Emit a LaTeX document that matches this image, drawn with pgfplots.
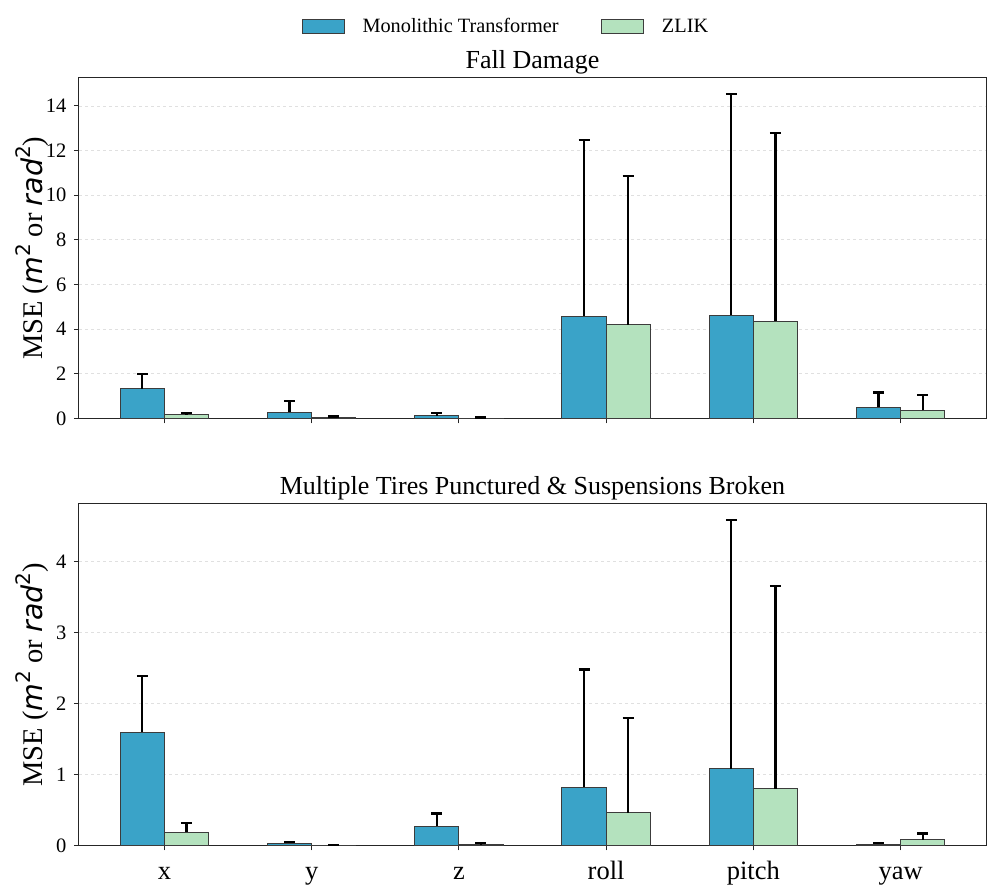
\documentclass[border=0pt]{standalone}
\usepackage{fontspec}
\setmainfont{Liberation Serif}
\newfontfamily\djv{DejaVu Sans}
\usepackage{pgfplots}
\usepackage{pgfplotstable}
\pgfplotsset{compat=1.18}

\definecolor{mtblue}{RGB}{58,163,200}
\definecolor{zlgreen}{RGB}{180,226,190}
\definecolor{edgegray}{RGB}{60,60,60}

% xm / xz: bar centres; Monolithic Transformer mean / error, ZLIK mean / error
\pgfplotstableread{
xm    xz    mt    mterr zl    zlerr
-0.15 0.15  1.34  0.66  0.16  0.07
0.85  1.15  0.27  0.50  0.05  0.04
1.85  2.15  0.13  0.11  0.02  0.02
2.85  3.15  4.58  7.90  4.20  6.67
3.85  4.15  4.62  9.93  4.35  8.42
4.85  5.15  0.51  0.65  0.36  0.71
}\falldamage

\pgfplotstableread{
xm    xz    mt    mterr zl    zlerr
-0.15 0.15  1.596 0.79  0.19  0.13
0.85  1.15  0.035 0.015 0.005 0.005
1.85  2.15  0.27  0.18  0.01  0.02
2.85  3.15  0.82  1.66  0.46  1.34
3.85  4.15  1.08  3.50  0.80  2.86
4.85  5.15  0.02  0.02  0.08  0.09
}\tires

\pgfplotsset{
  mseaxis/.style={
    scale only axis, width=907pt,
    xmin=-0.58, xmax=5.58, ymin=0,
    xtick={0,...,5},
    tick align=outside, tick pos=left,
    major tick length=5pt,
    tick style={black!85, line width=1pt},
    axis line style={black!85, line width=1pt},
    ymajorgrids,
    grid style={dashed, black!12, line width=0.8pt},
    /pgf/number format/assume math mode=true,
    yticklabel style={font=\fontsize{20.5}{20.5}\selectfont, xshift=-4pt},
    xticklabel style={font=\fontsize{26.5}{26.5}\selectfont, anchor=north, inner sep=0pt,
      text height=18pt, text depth=6pt, yshift=-10.5pt},
    every axis title shift=0pt,
    title style={font=\fontsize{26}{26}\selectfont, at={(0.5,1)}, anchor=base, yshift=9pt},
    ylabel style={font=\fontsize{28.5}{28.5}\selectfont, at={(axis description cs:0,0.5)}, anchor=center, yshift=47pt},
    ylabel={MSE ({\djv\itshape m}\raisebox{0.42em}{\fontsize{20}{20}\selectfont\djv 2} or {\djv\itshape rad}\raisebox{0.42em}{\fontsize{20}{20}\selectfont\djv 2})},
    error bars/y dir=plus, error bars/y explicit,
    error bars/error bar style={black, line width=2.2pt},
    error bars/error mark options={black, rotate=90, mark size=5.5pt, line width=2.2pt},
  },
  mtbar/.style={ybar, bar width=0.3, bar shift=0pt, fill=mtblue, draw=edgegray, line width=1pt,
    legend image code/.code={\draw[fill=mtblue, draw=edgegray, line width=1pt] (0pt,-7pt) rectangle (42pt,7pt);}},
  zlbar/.style={ybar, bar width=0.3, bar shift=0pt, fill=zlgreen, draw=edgegray, line width=1pt,
    legend image code/.code={\draw[fill=zlgreen, draw=edgegray, line width=1pt] (0pt,-7pt) rectangle (42pt,7pt);}},
}

\begin{document}
\begin{tikzpicture}
\useasboundingbox (0pt,0pt) rectangle (997pt,891pt);

\begin{axis}[mseaxis,
  at={(79pt,472.5pt)}, anchor=south west, height=340.5pt,
  ymax=15.25, ytick={0,2,...,14},
  xticklabels={,,,,,},
  title={Fall Damage},
  legend columns=2,
  legend cell align=left,
  legend style={draw=none, fill=none,
    at={(axis description cs:0.4697,1)}, anchor=center, yshift=51.5pt,
    font=\fontsize{20.3}{20.3}\selectfont,
    nodes={inner sep=0pt},
    /tikz/every odd column/.append style={column sep=17.7pt},
    /tikz/every even column/.append style={column sep=42.7pt}},
]
\addplot[mtbar] table[x=xm, y=mt, y error=mterr] {\falldamage};
\addlegendentry{Monolithic Transformer}
\addplot[zlbar] table[x=xz, y=zl, y error=zlerr] {\falldamage};
\addlegendentry{ZLIK}
\end{axis}

\begin{axis}[mseaxis,
  at={(79pt,45.5pt)}, anchor=south west, height=341.5pt,
  ymax=4.81, ytick={0,1,...,4},
  xticklabels={x,y,z,roll,pitch,yaw},
  title={Multiple Tires Punctured \& Suspensions Broken},
]
\addplot[mtbar] table[x=xm, y=mt, y error=mterr] {\tires};
\addplot[zlbar] table[x=xz, y=zl, y error=zlerr] {\tires};
\end{axis}
\end{tikzpicture}
\end{document}
